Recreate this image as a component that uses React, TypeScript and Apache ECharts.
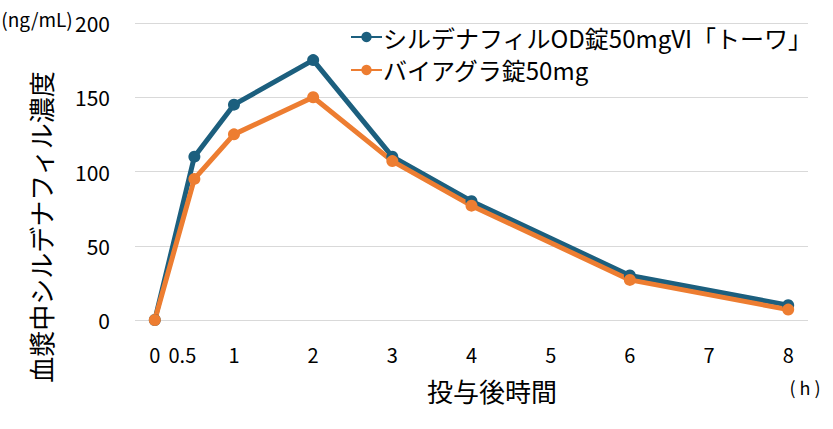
import React, { useEffect, useRef } from "react";
import * as echarts from "echarts";

const hours = [0, 0.5, 1, 2, 3, 4, 6, 8];
const sildenafilOD = [0, 110, 145, 175, 110, 80, 30, 10];
const viagra = [0, 95, 125, 150, 107, 77, 27, 7];
const xTickValues = [0, 0.5, 1, 2, 3, 4, 5, 6, 7, 8];
const seriesNames = ["シルデナフィルOD錠50mgVI「トーワ」", "バイアグラ錠50mg"];
const FONT = "'Noto Sans CJK JP', 'Noto Sans', sans-serif";

export default function App() {
  const ref = useRef<HTMLDivElement>(null);
  useEffect(() => {
    if (!ref.current) return;
    const chart = echarts.init(ref.current, null, { renderer: "svg" });
    const pair = (ys: number[]) => hours.map((h, i) => [h, ys[i]]);
    chart.setOption({
      animation: false,
      backgroundColor: "#ffffff",
      textStyle: { fontFamily: FONT },
      grid: { left: 135, right: 25, top: 23, bottom: 109 },
      legend: {
        orient: "vertical",
        left: 345,
        top: 20,
        itemGap: 9,
        itemWidth: 31,
        itemHeight: 13,
        textStyle: { fontSize: 24, color: "#000", fontFamily: FONT, padding: [0, 0, 0, -4] },
        data: seriesNames,
      },
      xAxis: {
        type: "value",
        min: -0.25,
        max: 8.25,
        axisLine: { show: false },
        axisTick: { show: false },
        splitLine: { show: false },
        axisLabel: {
          customValues: xTickValues,
          fontSize: 20,
          color: "#000",
          margin: 24,
          fontFamily: FONT,
          formatter: (v: number) => (v === 0.5 ? "{s|0.5}" : String(v)),
          rich: { s: { fontSize: 20, color: "#000", padding: [0, 24, 0, 0], fontFamily: FONT } },
        },
      },
      yAxis: {
        type: "value",
        min: 0,
        max: 200,
        interval: 50,
        axisLine: { show: false },
        axisTick: { show: false },
        splitLine: { lineStyle: { color: "#d9d9d9", width: 1 } },
        axisLabel: { fontSize: 21, color: "#000", margin: 25, fontFamily: FONT },
      },
      series: [
        {
          name: seriesNames[0],
          type: "line",
          data: pair(sildenafilOD),
          color: "#1c5f7e",
          lineStyle: { width: 5, color: "#1c5f7e" },
          symbol: "circle",
          symbolSize: 12,
          itemStyle: { color: "#1c5f7e" },
        },
        {
          name: seriesNames[1],
          type: "line",
          data: pair(viagra),
          color: "#ed7d31",
          lineStyle: { width: 5, color: "#ed7d31" },
          symbol: "circle",
          symbolSize: 12,
          itemStyle: { color: "#ed7d31" },
        },
      ],
      graphic: [
        {
          type: "text",
          x: 37,
          y: 18,
          style: {
            text: "(ng/mL)",
            fontSize: 19,
            fill: "#000",
            fontFamily: FONT,
            align: "center",
            verticalAlign: "middle",
          },
        },
        {
          type: "text",
          x: 40,
          y: 227,
          rotation: Math.PI / 2,
          style: {
            text: "血漿中シルデナフィル濃度",
            fontSize: 26,
            fill: "#000",
            fontFamily: FONT,
            align: "center",
            verticalAlign: "middle",
          },
        },
        {
          type: "text",
          x: 492,
          y: 390,
          style: {
            text: "投与後時間",
            fontSize: 26,
            fill: "#000",
            fontFamily: FONT,
            align: "center",
            verticalAlign: "middle",
          },
        },
        {
          type: "text",
          x: 805,
          y: 387,
          style: {
            text: "( h )",
            fontSize: 18,
            fill: "#000",
            fontFamily: FONT,
            align: "center",
            verticalAlign: "middle",
          },
        },
      ],
    });
    return () => chart.dispose();
  }, []);
  return <div ref={ref} style={{ width: 833, height: 429, position: "absolute", left: 0, top: 0 }} />;
}
